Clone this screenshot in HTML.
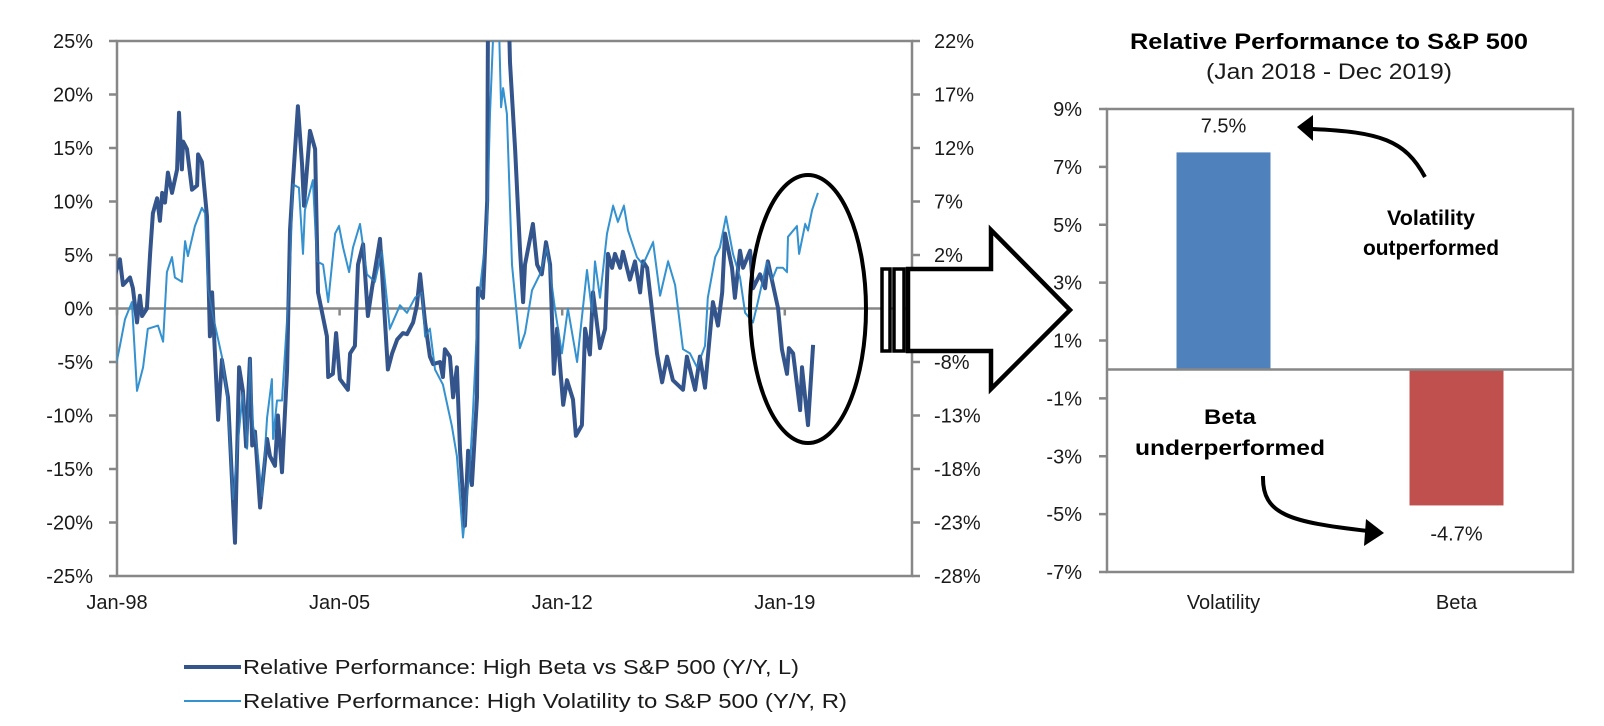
<!DOCTYPE html>
<html><head><meta charset="utf-8"><style>
html,body{margin:0;padding:0;background:#fff;}
svg{display:block;font-family:"Liberation Sans",sans-serif;}
</style></head><body>
<svg id="c" width="1604" height="726" viewBox="0 0 1604 726"></svg>
<script>
// ---- Left chart data ----
const leftTicks=[25,20,15,10,5,0,-5,-10,-15,-20,-25];
const rightTicks=[22,17,12,7,2,-3,-8,-13,-18,-23,-28];
const xTickLabels=["Jan-98","Jan-05","Jan-12","Jan-19"];
const xTickYears=[0,7,14,21];
// years after Jan-98
const betaT=[-0.06,.09,.19,.41,.50,.63,.72,.79,.94,1.04,1.13,1.26,1.35,1.42,1.51,1.60,1.73,1.89,1.95,2.04,2.08,2.20,2.36,2.52,2.55,2.67,2.83,2.92,2.99,3.02,3.18,3.30,3.49,3.71,3.84,3.96,4.06,4.18,4.25,4.34,4.50,4.72,4.81,4.97,5.06,5.19,5.35,5.44,5.53,5.69,5.82,5.88,6.07,6.23,6.32,6.60,6.64,6.79,6.89,7.01,7.26,7.33,7.48,7.58,7.74,7.89,8.02,8.18,8.27,8.52,8.65,8.81,8.99,9.12,9.31,9.43,9.53,9.69,9.84,9.94,10.16,10.25,10.31,10.47,10.57,10.69,10.79,10.94,11.04,11.16,11.32,11.35,11.51,11.64,11.67,12.30,12.36,12.52,12.67,12.77,12.83,13.08,13.21,13.36,13.49,13.62,13.74,13.84,14.03,14.15,14.34,14.43,14.62,14.72,14.87,14.97,15.19,15.35,15.44,15.57,15.66,15.82,15.91,16.13,16.29,16.45,16.54,16.67,16.98,17.14,17.30,17.48,17.80,17.92,18.18,18.33,18.49,18.74,18.90,19.03,19.12,19.34,19.43,19.59,19.69,19.91,20.00,20.22,20.38,20.47,20.79,20.91,21.07,21.13,21.26,21.48,21.54,21.73,21.89];
const betaV=[3.2,4.6,2.2,2.9,1.9,-1.3,1.2,-0.7,0,5.1,8.9,10.3,8.2,10.8,9.9,12.7,10.8,13.0,18.3,13.0,15.6,14.9,11.1,11.5,14.4,13.7,8.6,-2.6,1.5,-0.4,-10.4,-4.8,-8.3,-21.9,-5.5,-7.7,-12.9,-4.7,-12.8,-11.5,-18.6,-12.2,-13.8,-14.7,-10,-15.3,-5.7,7.3,11.8,18.9,13.4,9.6,16.6,14.9,1.5,-2.6,-6.4,-6.1,-2.3,-6.6,-7.6,-4.2,-3.5,4.1,6.0,-0.7,1.9,4.8,6.5,-5.7,-4.2,-2.9,-2.3,-2.4,-1.3,0.3,3.2,-1.3,-4.5,-5.2,-5.0,-6.4,-3.8,-4.5,-8.3,-5.5,-13.4,-20.3,-13.3,-16.5,-8.3,1.9,1.0,10.1,30,30,23,14.9,5.7,0.6,4.1,7.9,4.1,3.2,6.2,4.1,-6.1,-1.9,-9.0,-6.7,-8.5,-11.9,-10.9,-1.9,-4.3,1.5,-3.7,-1.9,5.1,3.8,5.1,3.8,5.3,2.7,4.4,1.5,4.4,3.8,-4.2,-6.9,-4.5,-6.7,-7.6,-4.5,-7.6,-4.5,-7.4,0.6,-1.6,1.5,7.0,3.8,1.0,5.4,3.8,5.4,1.9,3.2,1.9,4.4,0,-3.8,-6.1,-3.7,-4.2,-9.5,-5.5,-10.9,-3.4];
const volT=[-.06,.09,.25,.47,.63,.82,.97,1.29,1.45,1.57,1.73,1.82,2.04,2.14,2.23,2.45,2.67,2.77,2.86,3.02,3.30,3.46,3.65,3.81,3.96,4.09,4.18,4.28,4.40,4.56,4.72,4.87,4.91,5.03,5.19,5.35,5.44,5.53,5.72,5.85,5.91,6.16,6.29,6.48,6.64,6.86,6.98,7.11,7.30,7.42,7.64,7.86,8.11,8.33,8.58,8.90,9.12,9.37,9.59,9.69,9.84,10.00,10.25,10.53,10.69,10.88,11.10,11.19,11.35,11.64,11.73,11.89,11.98,12.08,12.14,12.26,12.42,12.67,12.83,13.05,13.30,13.52,13.77,13.99,14.18,14.47,14.78,14.94,15.03,15.19,15.41,15.60,15.75,15.94,16.07,16.35,16.54,16.86,17.08,17.33,17.55,17.80,18.02,18.24,18.49,18.58,18.81,18.96,19.15,19.37,19.59,19.75,20.00,20.13,20.44,20.60,20.75,20.94,21.07,21.10,21.38,21.45,21.64,21.73,21.86,22.04];
const volV=[-8.7,-6.5,-4,-2.4,-10.7,-8.5,-4.9,-4.6,-6.1,0.4,1.8,-0.1,-0.5,3.3,1.9,4.7,6.4,5.9,-1.1,-3.7,-7.5,-11,-20.9,-15.2,-10.8,-16.1,-7.7,-14,-15.8,-20.6,-13.2,-9.6,-15.2,-11.6,-11.6,-4,0.8,8.6,8.3,2.1,6.2,9,1.4,1.1,-2.4,4,4.7,2.7,0.4,2.7,4.9,0.2,-0.5,2.4,-4.9,-2.7,-3.4,-2,-1.5,-5.6,-4.9,-8.7,-10.1,-14,-16.8,-24.4,-17.7,-13,-3,4.9,15.2,27,27,15.8,17.6,15.2,1.1,-6.7,-5.3,-1.3,0.2,2.7,-3,-7.2,-3,-8,0.6,-3.4,1.4,-2,4,6.6,5.1,6.6,4.3,1.8,1.1,3.2,-1.8,1.4,-0.8,-6.8,-7.2,-8.5,-6.5,-2,1.8,2.7,5.6,2.1,-0.1,-3.4,-4.3,-2.7,1.4,-0.3,0.8,0.8,0.4,3.7,4.7,2.1,4.9,4.3,6.2,7.8];
// ---- Right chart data ----
const barCats=["Volatility","Beta"];
const barVals=[7.5,-4.7];
const barLabels=["7.5%","-4.7%"];
const barTicks=[9,7,5,3,1,-1,-3,-5,-7];

const NS="http://www.w3.org/2000/svg";
const svg=document.getElementById('c');
function mk(tag,attrs,parent,text){const e=document.createElementNS(NS,tag);for(const k in attrs)e.setAttribute(k,attrs[k]);if(text!==undefined)e.textContent=text;(parent||svg).appendChild(e);return e;}

const L={x0:117,x1:912,y0:41,y1:576};
const yL=v=>L.y0+(25-v)/50*(L.y1-L.y0);
const yR=v=>L.y0+(22-v)/50*(L.y1-L.y0);
const xT=t=>L.x0+t/25*(L.x1-L.x0);
const AX="#878787";
const defs=mk('defs',{});
const cp=mk('clipPath',{id:'plotclip'},defs);
mk('rect',{x:L.x0,y:L.y0,width:L.x1-L.x0,height:L.y1-L.y0},cp);

const gAxes=mk('g',{});


mk('rect',{x:L.x0,y:L.y0,width:L.x1-L.x0,height:L.y1-L.y0,fill:'none',stroke:AX,'stroke-width':2.5},gAxes);
mk('line',{x1:L.x0,x2:L.x1,y1:yL(0),y2:yL(0),stroke:AX,'stroke-width':2.5},gAxes);
leftTicks.forEach(v=>{
  mk('line',{x1:L.x0-8,x2:L.x0,y1:yL(v),y2:yL(v),stroke:AX,'stroke-width':2.5},gAxes);
  const t=mk('text',{x:93,y:yL(v)+7,'text-anchor':'end','font-size':20,fill:'#1a1a1a'},gAxes,v+'%');
  
  
});
rightTicks.forEach(v=>{
  mk('line',{x1:L.x1,x2:L.x1+8,y1:yR(v),y2:yR(v),stroke:AX,'stroke-width':2.5},gAxes);
  const t=mk('text',{x:934,y:yR(v)+7,'text-anchor':'start','font-size':20,fill:'#1a1a1a'},gAxes,v+'%');
  
  
});
xTickYears.forEach((yr,i)=>{
  mk('line',{x1:xT(yr),x2:xT(yr),y1:yL(0),y2:yL(0)+7,stroke:AX,'stroke-width':2.5},gAxes);
  const t=mk('text',{x:xT(yr),y:609,'text-anchor':'middle','font-size':20,fill:'#1a1a1a'},gAxes,xTickLabels[i]);
  
  
});

const gLines=mk('g',{'clip-path':'url(#plotclip)'});
const volPath=mk('polyline',{points:volT.map((t,i)=>xT(t).toFixed(1)+','+yR(volV[i]).toFixed(1)).join(' '),fill:'none',stroke:'#3592d0','stroke-width':2,'stroke-linejoin':'round'},gLines);


const betaPath=mk('polyline',{points:betaT.map((t,i)=>xT(t).toFixed(1)+','+yL(betaV[i]).toFixed(1)).join(' '),fill:'none',stroke:'#34548c','stroke-width':4,'stroke-linejoin':'round'},gLines);


const volTop=mk('polyline',{points:volPath.getAttribute('points'),fill:'none',stroke:'#3592d0','stroke-width':1.5,'stroke-opacity':0.55},gLines);



const ell=mk('ellipse',{cx:808,cy:309,rx:58,ry:134,fill:'none',stroke:'#000','stroke-width':4});



const gArr=mk('g',{});


mk('rect',{x:882,y:269,width:8,height:82,fill:'#fff',stroke:'#000','stroke-width':3.5},gArr);
mk('rect',{x:894,y:269,width:10,height:82,fill:'#fff',stroke:'#000','stroke-width':3.5},gArr);
mk('polygon',{points:'908,269 991,269 991,230 1070,310 991,389 991,351 908,351',fill:'#fff',stroke:'#000','stroke-width':4.5,'stroke-linejoin':'miter'},gArr);

const gLeg=mk('g',{});


mk('line',{x1:184,x2:241,y1:667,y2:667,stroke:'#34548c','stroke-width':4},gLeg);
const l1=mk('text',{x:243,y:674,'font-size':20,fill:'#1a1a1a',textLength:556,lengthAdjust:'spacingAndGlyphs'},gLeg,'Relative Performance: High Beta vs S&P 500 (Y/Y, L)');


mk('line',{x1:184,x2:241,y1:701,y2:701,stroke:'#3592d0','stroke-width':2},gLeg);
const l2=mk('text',{x:243,y:708,'font-size':20,fill:'#1a1a1a',textLength:604,lengthAdjust:'spacingAndGlyphs'},gLeg,'Relative Performance: High Volatility to S&P 500 (Y/Y, R)');



// ---- Right chart ----
const R={x0:1107,x1:1573,y0:109,y1:572};
const yB=v=>R.y0+(9-v)/16*(R.y1-R.y0);
const gR=mk('g',{});


const tt=mk('text',{x:1329,y:49,'text-anchor':'middle','font-size':22,'font-weight':'bold',fill:'#000',textLength:398,lengthAdjust:'spacingAndGlyphs'},gR,'Relative Performance to S&P 500');


const st=mk('text',{x:1329,y:79,'text-anchor':'middle','font-size':22,fill:'#1a1a1a',textLength:246,lengthAdjust:'spacingAndGlyphs'},gR,'(Jan 2018 - Dec 2019)');


const bw=(R.x1-R.x0)/barCats.length;
barCats.forEach((c,i)=>{
  const cx=R.x0+bw*(i+0.5);
  const v=barVals[i];
  const top=Math.min(yB(v),yB(0)), h=Math.abs(yB(v)-yB(0));
  const b=mk('rect',{x:cx-47,y:top,width:94,height:h,fill:i===0?'#4f81bd':'#c0504d'},gR);
  
  
  const lab=mk('text',{x:cx,y:v>=0?yB(v)-20:yB(v)+35,'text-anchor':'middle','font-size':20,fill:'#1a1a1a'},gR,barLabels[i]);
  
  
  const cl=mk('text',{x:cx,y:609,'text-anchor':'middle','font-size':20,fill:'#1a1a1a'},gR,c);
  
  
});
mk('rect',{x:R.x0,y:R.y0,width:R.x1-R.x0,height:R.y1-R.y0,fill:'none',stroke:AX,'stroke-width':2.5},gR);
mk('line',{x1:R.x0,x2:R.x1,y1:yB(0),y2:yB(0),stroke:AX,'stroke-width':2.5},gR);
barTicks.forEach(v=>{
  mk('line',{x1:R.x0-8,x2:R.x0,y1:yB(v),y2:yB(v),stroke:AX,'stroke-width':2.5},gR);
  const t=mk('text',{x:1082,y:yB(v)+7,'text-anchor':'end','font-size':20,fill:'#1a1a1a'},gR,v+'%');
  
  
});
const a1=mk('text',{x:1431,y:225,'text-anchor':'middle','font-size':21,'font-weight':'bold',fill:'#000',textLength:88,lengthAdjust:'spacingAndGlyphs'},gR,'Volatility');


const a1b=mk('text',{x:1431,y:255,'text-anchor':'middle','font-size':21,'font-weight':'bold',fill:'#000',textLength:136,lengthAdjust:'spacingAndGlyphs'},gR,'outperformed');


const a2=mk('text',{x:1230,y:424,'text-anchor':'middle','font-size':21,'font-weight':'bold',fill:'#000',textLength:52,lengthAdjust:'spacingAndGlyphs'},gR,'Beta');


const a2b=mk('text',{x:1230,y:455,'text-anchor':'middle','font-size':21,'font-weight':'bold',fill:'#000',textLength:190,lengthAdjust:'spacingAndGlyphs'},gR,'underperformed');


const c1=mk('path',{d:'M1425,177 C1405,140 1380,132 1312,129',fill:'none',stroke:'#000','stroke-width':4},gR);


mk('polygon',{points:'1297,127 1313,115 1313,141',fill:'#000'},gR);
const c2=mk('path',{d:'M1263,476 C1262,515 1290,522 1368,531',fill:'none',stroke:'#000','stroke-width':4},gR);


mk('polygon',{points:'1384,533 1366,519 1364,546',fill:'#000'},gR);
</script>
</body></html>
